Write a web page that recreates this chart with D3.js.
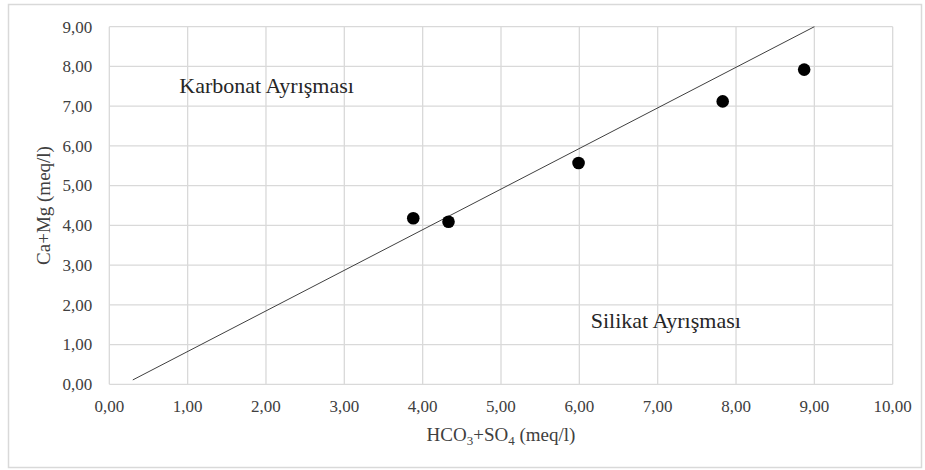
<!DOCTYPE html>
<html>
<head>
<meta charset="utf-8">
<script src="https://cdn.jsdelivr.net/npm/d3@7"></script>
<style>
  body { margin: 0; background: #fff; }
</style>
</head>
<body>
<div id="chart"></div>
<script>
// data
var xValues = [3.88, 4.33, 5.99, 7.83, 8.87];
var yValues = [4.18, 4.09, 5.57, 7.12, 7.92];
var lineX = [0.3, 9.0];
var lineY = [0.11, 9.0];
var xTicks = [0, 1, 2, 3, 4, 5, 6, 7, 8, 9, 10];
var yTicks = [0, 1, 2, 3, 4, 5, 6, 7, 8, 9];

var serif = "Liberation Serif";
var svgWidth = 925;
var svgHeight = 470;
var margin = {top: 26.7, right: 32.3, bottom: 85.7, left: 109.3};
var width = svgWidth - margin.left - margin.right;
var height = svgHeight - margin.top - margin.bottom;

var svg = d3.select("#chart")
            .append("svg")
            .attr("width", svgWidth)
            .attr("height", svgHeight)
            .attr("font-family", serif);

// outer frame
svg.append("rect")
   .attr("x", 8.5).attr("y", 4.5)
   .attr("width", 913).attr("height", 463)
   .attr("fill", "none")
   .attr("stroke", "#d9d9d9")
   .attr("stroke-width", 1.5);

var g = svg.append("g")
           .attr("transform", "translate(" + margin.left + "," + margin.top + ")");

var x = d3.scaleLinear().domain([0, 10]).range([0, width]);
var y = d3.scaleLinear().domain([0, 9]).range([height, 0]);

var fmt = function(d) { return d3.format(".2f")(d).replace(".", ","); };

// gridlines
g.append("g")
 .selectAll("line")
 .data(xTicks)
 .join("line")
 .attr("x1", d => x(d)).attr("x2", d => x(d))
 .attr("y1", 0).attr("y2", height)
 .attr("stroke", "#d9d9d9").attr("stroke-width", 1.3);

g.append("g")
 .selectAll("line")
 .data(yTicks)
 .join("line")
 .attr("x1", 0).attr("x2", width)
 .attr("y1", d => y(d)).attr("y2", d => y(d))
 .attr("stroke", "#d9d9d9").attr("stroke-width", 1.3);

// tick labels, drawn as plain text from the scales
g.append("g")
 .selectAll("text")
 .data(xTicks)
 .join("text")
 .attr("x", d => x(d))
 .attr("y", height + 27.4)
 .attr("text-anchor", "middle")
 .attr("font-family", serif)
 .attr("font-size", 17)
 .attr("fill", "#404040")
 .text(fmt);

g.append("g")
 .selectAll("text")
 .data(yTicks)
 .join("text")
 .attr("x", -17)
 .attr("y", d => y(d) + 5.8)
 .attr("text-anchor", "end")
 .attr("font-family", serif)
 .attr("font-size", 17)
 .attr("fill", "#404040")
 .text(fmt);

// axis titles
var xt = svg.append("text")
   .attr("x", margin.left + width / 2)
   .attr("y", 441)
   .attr("text-anchor", "middle")
   .attr("font-family", serif)
   .attr("font-size", 19)
   .attr("fill", "#404040");
xt.append("tspan").text("HCO");
xt.append("tspan").attr("dy", 4).attr("font-size", 13).text("3");
xt.append("tspan").attr("dy", -4).text("+SO");
xt.append("tspan").attr("dy", 4).attr("font-size", 13).text("4");
xt.append("tspan").attr("dy", -4).text(" (meq/l)");

svg.append("text")
   .attr("transform", "translate(50," + (margin.top + height / 2) + ") rotate(-90)")
   .attr("text-anchor", "middle")
   .attr("font-family", serif)
   .attr("font-size", 19)
   .attr("fill", "#404040")
   .text("Ca+Mg (meq/l)");

// reference line
g.append("line")
 .attr("x1", x(lineX[0])).attr("y1", y(lineY[0]))
 .attr("x2", x(lineX[1])).attr("y2", y(lineY[1]))
 .attr("stroke", "#404040")
 .attr("stroke-width", 1);

// points
g.selectAll("circle")
 .data(xValues)
 .join("circle")
 .attr("cx", d => x(d))
 .attr("cy", (d, i) => y(yValues[i]))
 .attr("r", 6.3)
 .attr("fill", "#000");

// region labels
svg.append("text")
   .attr("x", 179.3).attr("y", 93.3)
   .attr("font-family", serif)
   .attr("font-size", 22)
   .attr("fill", "#262626")
   .text("Karbonat Ayrışması");

svg.append("text")
   .attr("x", 590.7).attr("y", 328.3)
   .attr("font-family", serif)
   .attr("font-size", 22)
   .attr("fill", "#262626")
   .text("Silikat Ayrışması");
</script>
</body>
</html>
